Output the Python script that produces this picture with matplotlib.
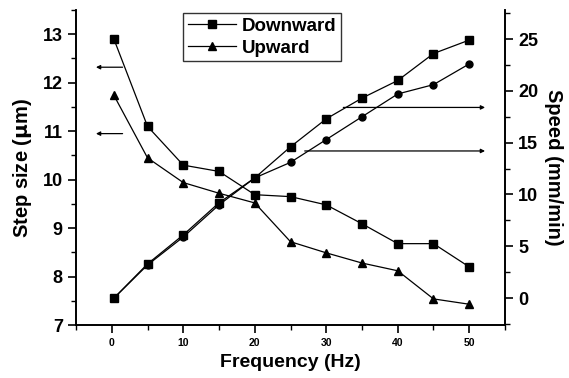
import matplotlib
matplotlib.use('Agg')
import matplotlib.pyplot as plt
from matplotlib.ticker import MultipleLocator

plt.rcParams['font.family'] = ['Liberation Sans', 'DejaVu Sans']
plt.rcParams['font.weight'] = 'bold'

freq = [0.3, 5, 10, 15, 20, 25, 30, 35, 40, 45, 50]
step_down = [12.9, 11.1, 10.3, 10.17, 9.69, 9.65, 9.48, 9.09, 8.68, 8.68, 8.2]
step_up = [11.74, 10.45, 9.94, 9.72, 9.52, 8.72, 8.49, 8.28, 8.12, 7.54, 7.43]
speed_down = [0.0, 3.3, 6.1, 9.2, 11.6, 14.6, 17.3, 19.3, 21.0, 23.6, 24.9]
speed_up = [0.0, 3.2, 5.9, 9.0, 11.6, 13.1, 15.3, 17.5, 19.7, 20.6, 22.6]

fig = plt.figure(figsize=(5.69, 3.78), dpi=100)
ax = fig.add_axes([0.1336, 0.140, 0.7539, 0.8335])
ax2 = ax.twinx()

ax.plot(freq, step_down, 'k-s', lw=0.9, ms=5.5, label='Downward')
ax.plot(freq, step_up, 'k-^', lw=0.9, ms=6, label='Upward')
ax2.plot(freq, speed_down, 'k-s', lw=0.9, ms=5.5)
ax2.plot(freq, speed_up, 'k-o', lw=0.9, ms=5)

ax.set_xlim(-5, 55)
ax.set_ylim(7, 13.5)
ax2.set_ylim(-2.6, 27.8)

ax.xaxis.set_major_locator(MultipleLocator(10))
ax.xaxis.set_minor_locator(MultipleLocator(5))
ax.yaxis.set_major_locator(MultipleLocator(1))
ax.yaxis.set_minor_locator(MultipleLocator(0.5))
ax2.yaxis.set_major_locator(MultipleLocator(5))
ax2.yaxis.set_minor_locator(MultipleLocator(2.5))

for a in (ax, ax2):
    a.spines['top'].set_visible(False)
    for s in a.spines.values():
        s.set_linewidth(1.2)
    a.tick_params(which='major', direction='out', length=6, width=1.2)
    a.tick_params(which='minor', direction='out', length=3.5, width=1)

ax.tick_params(axis='y', labelsize=13)
ax.tick_params(axis='x', labelsize=7.5)
ax2.tick_params(axis='y', labelsize=13)

ax.set_xlabel('Frequency (Hz)', fontsize=14, fontweight='bold')
ax.set_ylabel('Step size ($\\mathbf{\\mu}$m)', fontsize=14.5, fontweight='bold', labelpad=6)
ax2.set_ylabel('Speed (mm/min)', fontsize=14.5, fontweight='bold', rotation=-90, labelpad=18)

# arrows pointing to the axis each curve belongs to
arrow = dict(arrowstyle='-|>', color='k', lw=0.9, mutation_scale=6)
ax.annotate('', xy=(-2.6, 12.32), xytext=(1.9, 12.32), arrowprops=arrow)
ax.annotate('', xy=(-2.6, 10.95), xytext=(1.9, 10.95), arrowprops=arrow)
ax2.annotate('', xy=(52.6, 18.4), xytext=(32.0, 18.4), arrowprops=arrow)
ax2.annotate('', xy=(52.6, 14.2), xytext=(26.6, 14.2), arrowprops=arrow)

leg = ax.legend(loc='upper left', bbox_to_anchor=(0.249, 0.99), fontsize=13.5,
                frameon=True, fancybox=False, edgecolor='k', handlelength=2.6,
                borderpad=0.25, labelspacing=0.25, handletextpad=0.3,
                borderaxespad=0)
leg.get_frame().set_linewidth(1.0)

fig.savefig('out.png', dpi=100)
